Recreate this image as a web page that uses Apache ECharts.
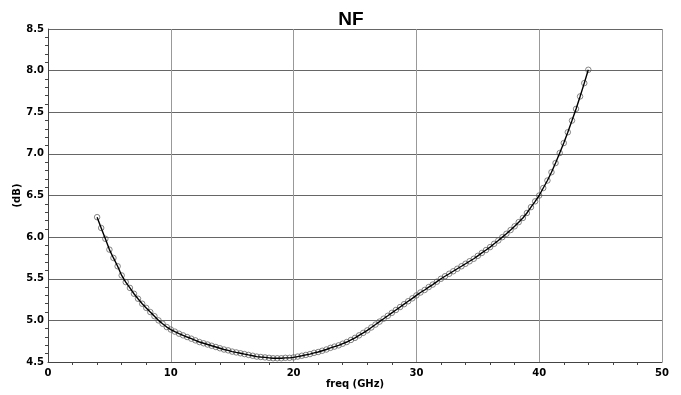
<!DOCTYPE html>
<html>
<head>
<meta charset="utf-8">
<script src="https://cdn.jsdelivr.net/npm/echarts@6/dist/echarts.min.js"></script>
<style>
html,body{margin:0;padding:0;background:#fff;}
#chart{width:681px;height:395px;}
</style>
</head>
<body>
<div id="chart"></div>
<script>
var titleText = 'NF';
var xName = 'freq (GHz)';
var yName = '(dB)';
var freq = [4,4.33,4.67,5,5.33,5.67,6,6.33,6.67,7,7.33,7.67,8,8.33,8.67,9,9.33,9.67,10,
10.33,10.67,11,11.33,11.67,12,12.33,12.67,13,13.33,13.67,14,14.33,14.67,15,15.33,15.67,16,
16.33,16.67,17,17.33,17.67,18,18.33,18.67,19,19.33,19.67,20,20.33,20.67,21,21.33,21.67,22,
22.33,22.67,23,23.33,23.67,24,24.33,24.67,25,25.33,25.67,26,26.33,26.67,27,27.33,27.67,28,
28.33,28.67,29,29.33,29.67,30,30.33,30.67,31,31.33,31.67,32,32.33,32.67,33,33.33,33.67,34,
34.33,34.67,35,35.33,35.67,36,36.33,36.67,37,37.33,37.67,38,38.33,38.67,39,39.33,39.67,40,
40.33,40.67,41,41.33,41.67,42,42.33,42.67,43,43.33,43.67,44];
var nf = [6.24,6.11,5.98,5.85,5.75,5.65,5.54,5.46,5.39,5.32,5.26,5.20,5.15,5.10,5.05,5.00,4.96,4.92,4.89,
4.865,4.84,4.82,4.80,4.78,4.76,4.74,4.725,4.71,4.695,4.68,4.665,4.65,4.64,4.625,4.615,4.605,4.595,
4.585,4.575,4.565,4.56,4.555,4.55,4.545,4.545,4.545,4.55,4.55,4.555,4.565,4.575,4.585,4.595,4.61,4.62,
4.635,4.65,4.67,4.685,4.70,4.72,4.74,4.765,4.79,4.82,4.85,4.88,4.915,4.95,4.985,5.02,5.055,5.09,
5.125,5.16,5.195,5.23,5.265,5.30,5.335,5.365,5.40,5.43,5.465,5.50,5.53,5.56,5.59,5.62,5.65,5.68,
5.71,5.74,5.775,5.81,5.845,5.88,5.92,5.96,6.00,6.04,6.085,6.13,6.18,6.23,6.29,6.36,6.43,6.50,
6.59,6.68,6.78,6.89,7.01,7.13,7.26,7.40,7.54,7.69,7.85,8.01];

var pts = freq.map(function(f, i){ return [f, nf[i]]; });

var chart = echarts.init(document.getElementById('chart'));
var labelFont = {fontFamily:'DejaVu Sans', fontWeight:'bold', fontSize:10, color:'#000'};
chart.setOption({
  animation:false,
  title:{text:titleText, left:346, top:5, textAlign:'center',
    textStyle:{fontFamily:'Liberation Sans', fontWeight:'bold', fontSize:19, color:'#000'}},
  grid:{left:48, right:19, top:29, bottom:33, containLabel:false, outerBoundsMode:'none'},
  xAxis:{type:'value', min:0, max:50, interval:10,
    name:xName, nameLocation:'middle', nameGap:17, nameMoveOverlap:false,
    nameTextStyle:{fontFamily:'DejaVu Sans', fontWeight:'bold', fontSize:10, color:'#000'},
    axisLine:{show:true, lineStyle:{color:'#444', width:1}},
    axisTick:{show:false},
    minorTick:{show:true, splitNumber:5, length:3, lineStyle:{color:'#444'}},
    axisLabel:Object.assign({margin:6}, labelFont),
    splitLine:{show:true, lineStyle:{color:'#999', width:1}}
  },
  yAxis:{type:'value', min:4.5, max:8.5, interval:0.5,
    name:yName, nameLocation:'middle', nameGap:26, nameRotate:90, nameMoveOverlap:false,
    nameTextStyle:{fontFamily:'DejaVu Sans', fontWeight:'bold', fontSize:10, color:'#000'},
    axisLine:{show:true, lineStyle:{color:'#444', width:1}},
    axisTick:{show:false},
    minorTick:{show:true, splitNumber:5, length:3, lineStyle:{color:'#444'}},
    axisLabel:Object.assign({margin:4, formatter:function(v){return v.toFixed(1);}}, labelFont),
    splitLine:{show:true, lineStyle:{color:'#666', width:1}}
  },
  series:[
    {type:'scatter', data:pts, symbol:'circle', symbolSize:5.5, z:2,
      itemStyle:{color:'rgba(255,255,255,0)', borderColor:'#555', borderWidth:0.9}},
    {type:'line', data:pts, showSymbol:false, z:3,
      lineStyle:{color:'#000', width:1.4}}
  ]
});
</script>
</body>
</html>
